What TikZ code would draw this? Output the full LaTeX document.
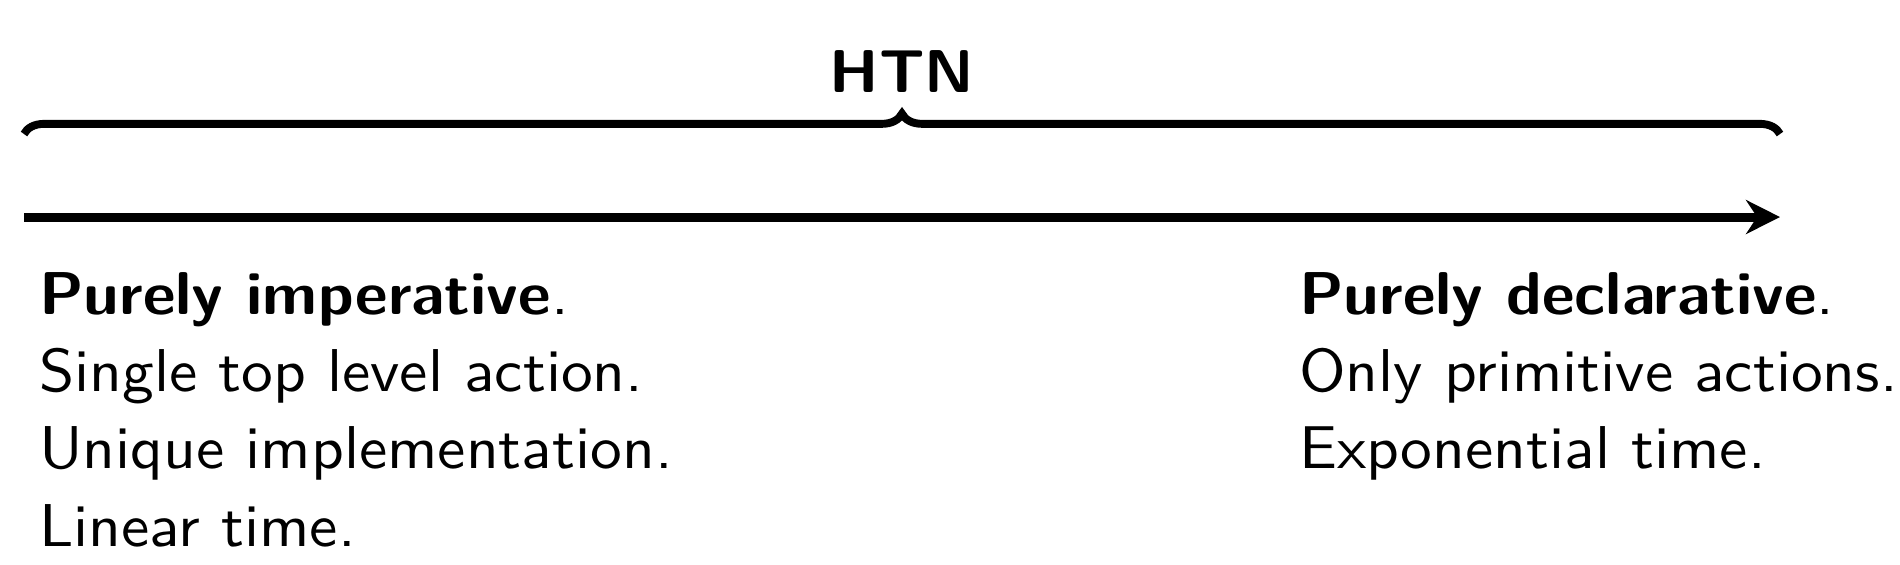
\documentclass[tikz,border=0pt]{standalone}
\usepackage{tikz}
\usetikzlibrary{positioning,arrows.meta,decorations.pathreplacing}

\begin{document}
\begin{tikzpicture}[
  x=0.177pt,y=-0.177pt,
  font=\sffamily\fontsize{10.7}{13.7}\selectfont,
  axis/.style={line width=1.6pt,-{Stealth[length=6pt,width=6pt]}},
  brc/.style={decorate,decoration={brace,amplitude=3.6pt},line width=1.4pt},
  col/.style={align=left,inner sep=0pt,anchor=north west,xscale=1.05,transform shape},
  ttl/.style={font=\sffamily\bfseries\fontsize{10.7}{13.7}\selectfont,inner sep=0pt,xscale=1.03,transform shape}
]
\useasboundingbox (0,0) rectangle (1900,564);
\coordinate (bl) at (24,134);
\coordinate (br) at (1780,134);
\coordinate (al) at (24,217);
\coordinate (ar) at (1780,217);
\coordinate (htnat) at (902,92);
\coordinate (impat) at (38,271);
\coordinate (decat) at (1298,271);
\draw[brc] (bl) -- (br);
\node[ttl,anchor=base] (htn) at (htnat) {HTN};
\draw[axis] (al) -- (ar);
\node[col] (imp) at (impat) {\textbf{Purely imperative}.\\Single top level action.\\Unique implementation.\\Linear time.};
\node[col] (dec) at (decat) {\textbf{Purely declarative}.\\Only primitive actions.\\Exponential time.};
\end{tikzpicture}
\end{document}
